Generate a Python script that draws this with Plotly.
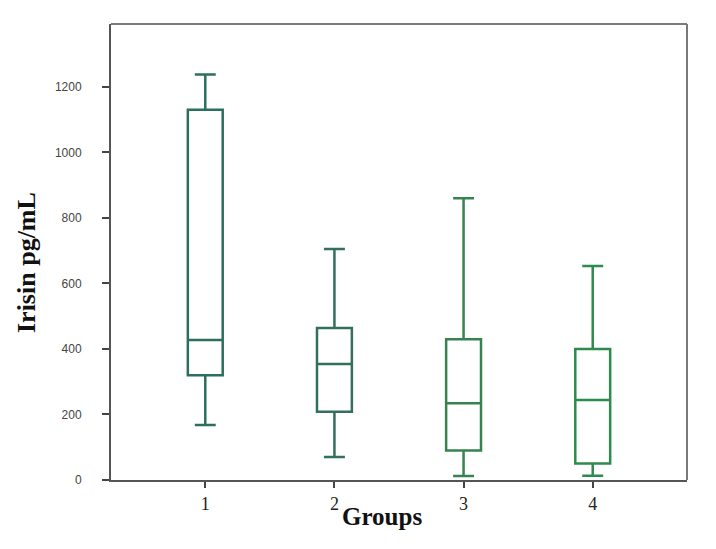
import plotly.graph_objects as go

groups = [1, 2, 3, 4]
lower = [168, 70, 12, 13]
q1 = [320, 208, 90, 50]
median = [427, 354, 234, 244]
q3 = [1130, 464, 430, 400]
upper = [1238, 705, 860, 653]
colors = ["#2D6F5E", "#33705A", "#37834F", "#2F8A4E"]

fig = go.Figure()
for g, lo, a, m, b, hi, c in zip(groups, lower, q1, median, q3, upper, colors):
    fig.add_trace(go.Box(
        x=[g], q1=[a], median=[m], q3=[b], lowerfence=[lo], upperfence=[hi],
        width=0.27, whiskerwidth=0.6, fillcolor="white",
        line=dict(color=c, width=2.5), showlegend=False, hoverinfo="skip",
    ))

fig.add_shape(type="line", xref="paper", yref="paper", x0=0, x1=1, y0=1, y1=1,
              line=dict(color="#7a7a7a", width=2))
fig.add_shape(type="line", xref="paper", yref="paper", x0=1, x1=1, y0=0, y1=1,
              line=dict(color="#7a7a7a", width=2))

fig.add_annotation(text="<b>Irisin pg/mL</b>", xref="paper", yref="paper",
                   x=-0.1476, y=0.478, textangle=-90, showarrow=False,
                   xanchor="center", yanchor="middle",
                   font=dict(family="Liberation Serif", size=26, color="#111"))
fig.add_annotation(text="<b>Groups</b>", xref="paper", yref="paper",
                   x=(382 - 111) / 576, y=-(516 - 480) / 456, showarrow=False,
                   xanchor="center", yanchor="middle",
                   font=dict(family="Liberation Serif", size=25, color="#111"))

fig.update_layout(
    width=716, height=549,
    margin=dict(l=111, r=29, t=24, b=69),
    paper_bgcolor="white", plot_bgcolor="white",
    xaxis=dict(
        range=[0.27, 4.73], tickmode="array", tickvals=groups,
        ticktext=[str(g) for g in groups],
        showline=True, linecolor="#555", linewidth=2, ticks="outside",
        ticklen=6, tickcolor="#444", tickwidth=2, showgrid=False, zeroline=False,
        tickfont=dict(family="Liberation Serif", size=18, color="#222"),
    ),
    yaxis=dict(
        range=[0, 1392], tickvals=[0, 200, 400, 600, 800, 1000, 1200],
        showline=True, linecolor="#555", linewidth=2, ticks="outside",
        ticklen=7, tickcolor="#444", tickwidth=1.5, showgrid=False, zeroline=False,
        ticklabelstandoff=18,
        tickfont=dict(family="Liberation Sans", size=12, color="#444"),
    ),
)

fig.write_html("out.html")
